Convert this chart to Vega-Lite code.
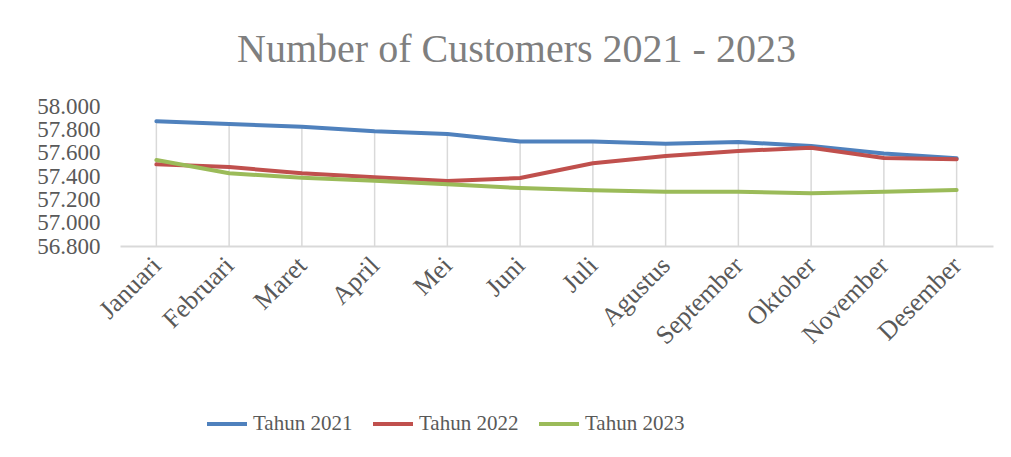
{
  "$schema": "https://vega.github.io/schema/vega-lite/v6.json",
  "width": 873,
  "height": 140,
  "autosize": {"type": "none"},
  "padding": {"left": 120, "top": 106, "right": 18, "bottom": 211},
  "background": "white",
  "title": {
    "text": "Number of Customers 2021 - 2023",
    "font": "Liberation Serif",
    "fontSize": 40,
    "fontWeight": "normal",
    "color": "#7f7f7f",
    "anchor": "middle",
    "dx": -40,
    "offset": 25
  },
  "config": {
    "view": {"stroke": null},
    "font": "Liberation Serif",
    "axisX": {
      "title": null,
      "labelAngle": -45,
      "labelAlign": "right",
      "labelBaseline": "middle",
      "labelFont": "Liberation Serif",
      "labelFontSize": 26,
      "labelColor": "#595959",
      "labelPadding": 15,
      "labelOverlap": false,
      "ticks": false,
      "domainColor": "#d9d9d9",
      "domainWidth": 2,
      "grid": false
    },
    "axisY": {
      "title": null,
      "labelFont": "Liberation Serif",
      "labelFontSize": 23,
      "labelColor": "#595959",
      "labelPadding": 20,
      "labelOverlap": false,
      "labelFlush": false,
      "domain": false,
      "ticks": false,
      "grid": false
    }
  },
  "data": {
    "values": [
      {"bulan": "Januari", "tahun": "Tahun 2021", "nilai": 57869},
      {"bulan": "Februari", "tahun": "Tahun 2021", "nilai": 57846},
      {"bulan": "Maret", "tahun": "Tahun 2021", "nilai": 57823},
      {"bulan": "April", "tahun": "Tahun 2021", "nilai": 57783},
      {"bulan": "Mei", "tahun": "Tahun 2021", "nilai": 57760},
      {"bulan": "Juni", "tahun": "Tahun 2021", "nilai": 57695},
      {"bulan": "Juli", "tahun": "Tahun 2021", "nilai": 57695},
      {"bulan": "Agustus", "tahun": "Tahun 2021", "nilai": 57677},
      {"bulan": "September", "tahun": "Tahun 2021", "nilai": 57691},
      {"bulan": "Oktober", "tahun": "Tahun 2021", "nilai": 57657},
      {"bulan": "November", "tahun": "Tahun 2021", "nilai": 57592},
      {"bulan": "Desember", "tahun": "Tahun 2021", "nilai": 57552},
      {"bulan": "Januari", "tahun": "Tahun 2022", "nilai": 57500},
      {"bulan": "Februari", "tahun": "Tahun 2022", "nilai": 57477},
      {"bulan": "Maret", "tahun": "Tahun 2022", "nilai": 57423},
      {"bulan": "April", "tahun": "Tahun 2022", "nilai": 57389},
      {"bulan": "Mei", "tahun": "Tahun 2022", "nilai": 57357},
      {"bulan": "Juni", "tahun": "Tahun 2022", "nilai": 57383},
      {"bulan": "Juli", "tahun": "Tahun 2022", "nilai": 57509},
      {"bulan": "Agustus", "tahun": "Tahun 2022", "nilai": 57571},
      {"bulan": "September", "tahun": "Tahun 2022", "nilai": 57614},
      {"bulan": "Oktober", "tahun": "Tahun 2022", "nilai": 57643},
      {"bulan": "November", "tahun": "Tahun 2022", "nilai": 57554},
      {"bulan": "Desember", "tahun": "Tahun 2022", "nilai": 57543},
      {"bulan": "Januari", "tahun": "Tahun 2023", "nilai": 57537},
      {"bulan": "Februari", "tahun": "Tahun 2023", "nilai": 57423},
      {"bulan": "Maret", "tahun": "Tahun 2023", "nilai": 57386},
      {"bulan": "April", "tahun": "Tahun 2023", "nilai": 57360},
      {"bulan": "Mei", "tahun": "Tahun 2023", "nilai": 57329},
      {"bulan": "Juni", "tahun": "Tahun 2023", "nilai": 57297},
      {"bulan": "Juli", "tahun": "Tahun 2023", "nilai": 57277},
      {"bulan": "Agustus", "tahun": "Tahun 2023", "nilai": 57266},
      {"bulan": "September", "tahun": "Tahun 2023", "nilai": 57266},
      {"bulan": "Oktober", "tahun": "Tahun 2023", "nilai": 57252},
      {"bulan": "November", "tahun": "Tahun 2023", "nilai": 57266},
      {"bulan": "Desember", "tahun": "Tahun 2023", "nilai": 57280}
    ]
  },
  "layer": [
    {
      "mark": {"type": "rule", "color": "#d9d9d9", "strokeWidth": 1.5},
      "encoding": {
        "x": {
          "field": "bulan",
          "type": "ordinal",
          "sort": null,
          "scale": {"type": "point", "padding": 0.5},
          "axis": {"title": null}
        },
        "y": {
          "aggregate": "max",
          "field": "nilai",
          "type": "quantitative",
          "scale": {"domain": [56800, 58000], "nice": false, "zero": false},
          "axis": {
            "title": null,
            "values": [56800, 57000, 57200, 57400, 57600, 57800, 58000],
            "labelExpr": "replace(format(datum.value, ','), ',', '.')"
          }
        },
        "y2": {"datum": 56800}
      }
    },
    {
      "mark": {"type": "line", "strokeWidth": 4, "strokeCap": "round", "strokeJoin": "round"},
      "encoding": {
        "x": {
          "field": "bulan",
          "type": "ordinal",
          "sort": null,
          "scale": {"type": "point", "padding": 0.5},
          "axis": {"title": null}
        },
        "y": {
          "field": "nilai",
          "type": "quantitative",
          "scale": {"domain": [56800, 58000], "nice": false, "zero": false},
          "axis": {
            "title": null,
            "values": [56800, 57000, 57200, 57400, 57600, 57800, 58000],
            "labelExpr": "replace(format(datum.value, ','), ',', '.')"
          }
        },
        "color": {
          "field": "tahun",
          "type": "nominal",
          "scale": {
            "domain": ["Tahun 2021", "Tahun 2022", "Tahun 2023"],
            "range": ["#4f81bd", "#c0504d", "#9bbb59"]
          },
          "legend": {
            "title": null,
            "orient": "none",
            "legendX": 85,
            "legendY": 296,
            "direction": "horizontal",
            "symbolType": "stroke",
            "symbolSize": 1600,
            "symbolStrokeWidth": 4,
            "labelFont": "Liberation Serif",
            "labelFontSize": 21,
            "labelColor": "#595959",
            "labelOffset": 4,
            "columnPadding": 12
          }
        }
      }
    }
  ]
}
